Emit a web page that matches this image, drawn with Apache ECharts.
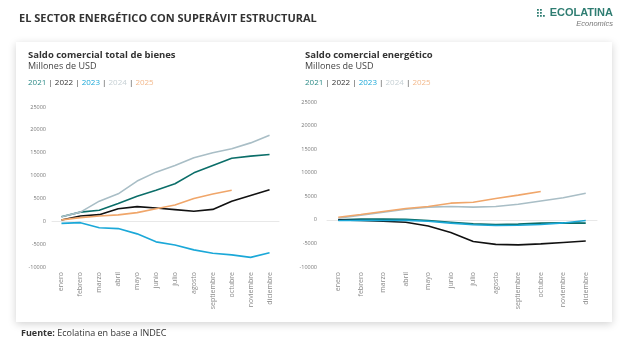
<!DOCTYPE html>
<html>
<head>
<meta charset="utf-8">
<script src="https://cdn.jsdelivr.net/npm/echarts@6/dist/echarts.min.js"></script>
<style>
  html, body { margin: 0; padding: 0; background: #fff; }
  #main { width: 629px; height: 354px; }
</style>
</head>
<body>
<div id="main"></div>
<script>
var meses = ['enero', 'febrero', 'marzo', 'abril', 'mayo', 'junio', 'julio', 'agosto', 'septiembre', 'octubre', 'noviembre', 'diciembre'];
var anios = ['2021', '2022', '2023', '2024', '2025'];
var colores = ['#0b6e69', '#111111', '#1ba8d8', '#a9bec6', '#f0a66a'];
var coloresLeyenda = ['#2b8a86', '#333333', '#1ba8d8', '#c6d0d4', '#f3b98c'];

// Saldo comercial total de bienes (acumulado, millones de USD)
var bienes2021 = [1000, 2000, 2400, 3900, 5500, 6800, 8200, 10600, 12200, 13800, 14250, 14600];
var bienes2022 = [300, 1150, 1450, 2750, 3200, 2900, 2550, 2200, 2600, 4400, 5650, 6900];
var bienes2023 = [-450, -300, -1400, -1600, -2750, -4500, -5200, -6250, -7000, -7350, -7900, -6900];
var bienes2024 = [1000, 2000, 4400, 6000, 8800, 10750, 12200, 13900, 15000, 15850, 17150, 18800];
var bienes2025 = [300, 800, 1150, 1400, 1900, 2750, 3550, 5000, 5950, 6800];

// Saldo comercial energético
var energia2021 = [0, 150, 150, 100, -150, -500, -850, -1000, -900, -700, -650, -700];
var energia2022 = [0, -100, -300, -500, -1300, -2700, -4600, -5200, -5300, -5100, -4800, -4500];
var energia2023 = [-150, -100, -150, -100, -300, -700, -1050, -1200, -1150, -1000, -650, -150];
var energia2024 = [350, 1000, 1600, 2250, 2700, 2830, 2700, 2830, 3300, 4000, 4700, 5650];
var energia2025 = [570, 1130, 1770, 2400, 2830, 3540, 3750, 4530, 5240, 6000];

var fuente = '"Open Sans", "Noto Sans", sans-serif';

function serie(nombre, datos, i, idx) {
    return {
        name: nombre, type: 'line', data: datos,
        xAxisIndex: idx, yAxisIndex: idx,
        symbol: 'none', smooth: false,
        lineStyle: { color: colores[i], width: 1.6 },
        z: i === 4 ? 5 : 3
    };
}

function ejeX(idx) {
    return {
        type: 'category', gridIndex: idx, data: meses,
        axisLine: { onZero: true, lineStyle: { color: '#e8e8e8', width: 1 } },
        axisTick: { show: false },
        axisLabel: { rotate: 90, fontSize: 7, color: '#8a8a8a', fontFamily: fuente, margin: 5, interval: 0 }
    };
}

function ejeY(idx) {
    return {
        type: 'value', gridIndex: idx, min: -10000, max: 25000, interval: 5000,
        splitLine: { show: false },
        axisLine: { show: false },
        axisTick: { show: false },
        axisLabel: {
            fontSize: 5.5, color: '#777', fontFamily: fuente, margin: idx === 0 ? 6 : 10,
            formatter: function (v) { return String(v); }
        }
    };
}

function leyenda(x) {
    var rich = {};
    var partes = [];
    anios.forEach(function (a, i) {
        rich['c' + i] = { color: coloresLeyenda[i], fontSize: 8, fontWeight: 'normal', fontFamily: fuente };
        partes.push('{c' + i + '|' + a + '}');
    });
    rich.sep = { color: '#444', fontSize: 8, fontWeight: 'normal', fontFamily: fuente };
    return {
        left: x, top: 79, padding: 0,
        text: partes.join('{sep| | }'),
        textStyle: { rich: rich, fontSize: 8, fontWeight: 'normal' }
    };
}

var myChart = echarts.init(document.getElementById('main'));
myChart.setOption({
    animation: false,
    backgroundColor: '#ffffff',
    graphic: [
        {
            type: 'rect', z: -10,
            shape: { x: 16, y: 42, width: 596, height: 280 },
            style: { fill: '#fff', shadowBlur: 8, shadowColor: 'rgba(0,0,0,0.18)', shadowOffsetY: 2 }
        },
        {
            type: 'group', left: 537, top: 9,
            children: [
                { type: 'rect', shape: { x: 0, y: 0, width: 1.8, height: 1.8 }, style: { fill: '#2f7d72' } },
                { type: 'rect', shape: { x: 0, y: 3, width: 1.8, height: 1.8 }, style: { fill: '#2f7d72' } },
                { type: 'rect', shape: { x: 0, y: 6, width: 1.8, height: 1.8 }, style: { fill: '#2f7d72' } },
                { type: 'rect', shape: { x: 3, y: 0, width: 1.8, height: 1.8 }, style: { fill: '#2f7d72' } },
                { type: 'rect', shape: { x: 3, y: 3, width: 1.8, height: 1.8 }, style: { fill: '#2f7d72' } },
                { type: 'rect', shape: { x: 3, y: 6, width: 1.8, height: 1.8 }, style: { fill: '#2f7d72' } },
                { type: 'rect', shape: { x: 6, y: 6, width: 1.8, height: 1.8 }, style: { fill: '#2f7d72' } }
            ]
        }
    ],
    title: [
        { left: 19, top: 13, padding: 0, text: 'EL SECTOR ENERGÉTICO CON SUPERÁVIT ESTRUCTURAL',
          textStyle: { fontSize: 11, fontWeight: 'bold', color: '#333', fontFamily: fuente } },
        { right: 16, top: 7, padding: 0, text: 'ECOLATINA',
          textStyle: { fontSize: 11, fontWeight: 'bold', color: '#2f7d72', fontFamily: '"Liberation Sans", Arial, sans-serif' } },
        { right: 16, top: 20, padding: 0, text: 'Economics',
          textStyle: { fontSize: 7.5, fontStyle: 'italic', fontWeight: 'normal', color: '#777', fontFamily: '"Liberation Sans", Arial, sans-serif' } },
        { left: 28, top: 50, padding: 0, text: 'Saldo comercial total de bienes', subtext: 'Millones de USD', itemGap: 2,
          textStyle: { fontSize: 9.5, fontWeight: 'bold', color: '#333', fontFamily: fuente },
          subtextStyle: { fontSize: 9, color: '#444', fontFamily: fuente } },
        { left: 305, top: 50, padding: 0, text: 'Saldo comercial energético', subtext: 'Millones de USD', itemGap: 2,
          textStyle: { fontSize: 9.5, fontWeight: 'bold', color: '#333', fontFamily: fuente },
          subtextStyle: { fontSize: 9, color: '#444', fontFamily: fuente } },
        leyenda(28),
        leyenda(305),
        { left: 21, top: 329, padding: 0, text: '{b|Fuente:} {n|Ecolatina en base a INDEC}',
          textStyle: { fontSize: 9, fontWeight: 'normal', color: '#333', fontFamily: fuente,
            rich: {
                b: { fontSize: 9, fontWeight: 'bold', color: '#333', fontFamily: fuente },
                n: { fontSize: 9, fontWeight: 'normal', color: '#333', fontFamily: fuente }
            } } }
    ],
    grid: [
        { left: 52, top: 107, width: 227, height: 160 },
        { left: 327, top: 102, width: 270, height: 165 }
    ],
    xAxis: [ejeX(0), ejeX(1)],
    yAxis: [ejeY(0), ejeY(1)],
    series: [
        serie('2021', bienes2021, 0, 0),
        serie('2022', bienes2022, 1, 0),
        serie('2023', bienes2023, 2, 0),
        serie('2024', bienes2024, 3, 0),
        serie('2025', bienes2025, 4, 0),
        serie('2021', energia2021, 0, 1),
        serie('2022', energia2022, 1, 1),
        serie('2023', energia2023, 2, 1),
        serie('2024', energia2024, 3, 1),
        serie('2025', energia2025, 4, 1)
    ]
});
</script>
</body>
</html>
